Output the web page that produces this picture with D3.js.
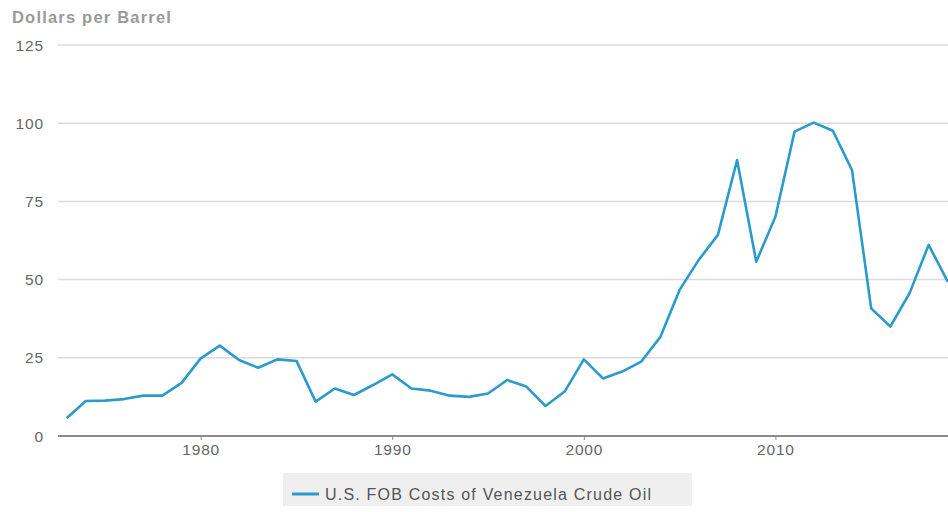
<!DOCTYPE html>
<html>
<head>
<meta charset="utf-8">
<script src="https://cdn.jsdelivr.net/npm/d3@7"></script>
<style>
  html, body { margin: 0; padding: 0; background: #fff; }
  svg { display: block; font-family: "Liberation Sans", Arial, sans-serif; }
</style>
</head>
<body>
<svg id="chart" width="948" height="512"></svg>
<script>
// Annual U.S. FOB costs of Venezuelan crude oil, dollars per barrel
const years = d3.range(1973, 2020);
const prices = [
  5.7, 11.2, 11.3, 11.8, 12.9, 12.9, 17.0, 24.8, 28.9, 24.3,
  21.8, 24.5, 24.0, 11.0, 15.2, 13.1, 16.3, 19.7, 15.2, 14.5,
  12.9, 12.5, 13.6, 17.9, 15.8, 9.6, 14.2, 24.5, 18.4, 20.6,
  23.8, 31.7, 46.7, 56.3, 64.3, 88.2, 55.7, 70.1, 97.3, 100.2,
  97.6, 85.0, 40.8, 35.0, 45.6, 61.1, 49.3
];
const yTicks = [0, 25, 50, 75, 100, 125];
const xTicks = [1980, 1990, 2000, 2010];
const seriesName = "U.S. FOB Costs of Venezuela Crude Oil";
const yTitle = "Dollars per Barrel";

const data = years.map((y, i) => ({ year: y, value: prices[i] }));

const svg = d3.select("#chart");
const W = 948;
const plotLeft = 58;

const x = d3.scaleLinear().domain([1973, 2019]).range([66.6, 947.8]);
const y = d3.scaleLinear().domain([0, 125]).range([436, 45]);

// horizontal gridlines
svg.append("g")
  .selectAll("line")
  .data(yTicks.filter(d => d > 0))
  .join("line")
  .attr("x1", plotLeft).attr("x2", W)
  .attr("y1", d => y(d)).attr("y2", d => y(d))
  .attr("stroke", "#dcdcdc").attr("stroke-width", 1.5);

// y tick labels
svg.append("g")
  .selectAll("text")
  .data(yTicks)
  .join("text")
  .attr("x", 44).attr("y", d => y(d) + 5.5)
  .attr("text-anchor", "end")
  .attr("font-size", 15.5)
  .attr("letter-spacing", 0.9)
  .attr("fill", "#666")
  .text(d => d);

// x axis
const xAxis = d3.axisBottom(x)
  .tickValues(xTicks)
  .tickFormat(d3.format("d"))
  .tickSize(4)
  .tickPadding(4);
const gx = svg.append("g")
  .attr("transform", `translate(0,${y(0)})`)
  .call(xAxis);
gx.select(".domain").remove();
gx.append("line")
  .attr("x1", plotLeft).attr("x2", W)
  .attr("stroke", "#8a8a8a").attr("stroke-width", 2);
gx.selectAll(".tick line").attr("stroke", "#8a8a8a");
gx.selectAll(".tick text")
  .attr("font-size", 15.5)
  .attr("letter-spacing", 0.8)
  .attr("fill", "#666")
  .attr("font-family", "\"Liberation Sans\", Arial, sans-serif");

// price line
const line = d3.line()
  .x(d => x(d.year))
  .y(d => y(d.value));
svg.append("path")
  .datum(data)
  .attr("d", line)
  .attr("fill", "none")
  .attr("stroke", "#2b9bcc")
  .attr("stroke-width", 2.6)
  .attr("stroke-linejoin", "round");

// axis title
svg.append("text")
  .attr("x", 12).attr("y", 23)
  .attr("font-size", 16.5)
  .attr("letter-spacing", 1.2)
  .attr("font-weight", "bold")
  .attr("fill", "#9a9a9a")
  .text(yTitle);

// legend
const lg = svg.append("g");
lg.append("rect")
  .attr("x", 283).attr("y", 473)
  .attr("width", 409).attr("height", 33)
  .attr("fill", "#efefef");
lg.append("line")
  .attr("x1", 292).attr("x2", 319)
  .attr("y1", 494).attr("y2", 494)
  .attr("stroke", "#2b9bcc").attr("stroke-width", 3);
lg.append("text")
  .attr("x", 325).attr("y", 500)
  .attr("font-size", 16)
  .attr("letter-spacing", 1.2)
  .attr("fill", "#555")
  .text(seriesName);
</script>
</body>
</html>
